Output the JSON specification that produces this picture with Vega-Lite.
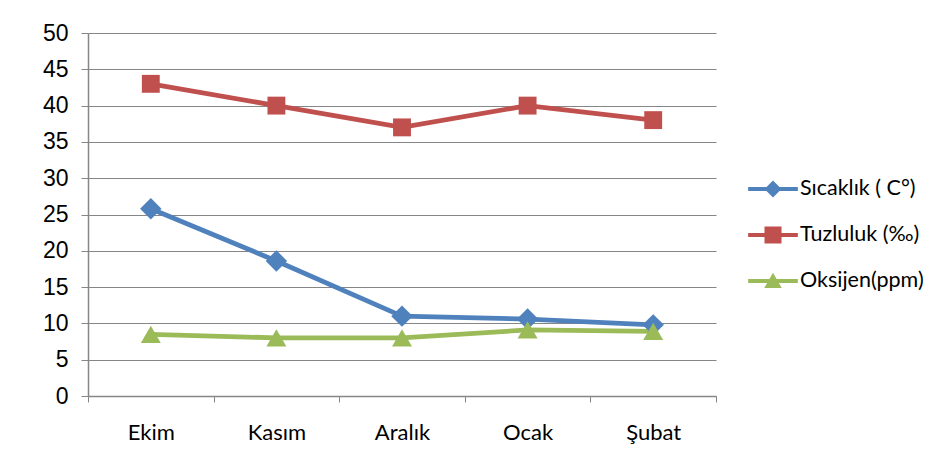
{
  "$schema": "https://vega.github.io/schema/vega-lite/v6.json",
  "width": 628,
  "height": 363,
  "autosize": "none",
  "padding": {"left": 88, "top": 33, "right": 234, "bottom": 80},
  "background": "white",
  "config": {
    "view": {"stroke": null},
    "font": "Lato"
  },
  "data": {
    "values": [
      {"ay": "Ekim", "seri": "Sıcaklık ( C°)", "deger": 25.8},
      {"ay": "Kasım", "seri": "Sıcaklık ( C°)", "deger": 18.6},
      {"ay": "Aralık", "seri": "Sıcaklık ( C°)", "deger": 11.0},
      {"ay": "Ocak", "seri": "Sıcaklık ( C°)", "deger": 10.6},
      {"ay": "Şubat", "seri": "Sıcaklık ( C°)", "deger": 9.8},
      {"ay": "Ekim", "seri": "Tuzluluk (‰)", "deger": 43},
      {"ay": "Kasım", "seri": "Tuzluluk (‰)", "deger": 40},
      {"ay": "Aralık", "seri": "Tuzluluk (‰)", "deger": 37},
      {"ay": "Ocak", "seri": "Tuzluluk (‰)", "deger": 40},
      {"ay": "Şubat", "seri": "Tuzluluk (‰)", "deger": 38},
      {"ay": "Ekim", "seri": "Oksijen(ppm)", "deger": 8.5},
      {"ay": "Kasım", "seri": "Oksijen(ppm)", "deger": 8.0},
      {"ay": "Aralık", "seri": "Oksijen(ppm)", "deger": 8.0},
      {"ay": "Ocak", "seri": "Oksijen(ppm)", "deger": 9.1},
      {"ay": "Şubat", "seri": "Oksijen(ppm)", "deger": 8.9}
    ]
  },
  "encoding": {
    "x": {
      "field": "ay",
      "type": "nominal",
      "sort": ["Ekim", "Kasım", "Aralık", "Ocak", "Şubat"],
      "scale": {"type": "band", "paddingInner": 0, "paddingOuter": 0},
      "axis": {
        "title": null,
        "labelAngle": 0,
        "tickBand": "extent",
        "tickSize": 6,
        "tickColor": "#868686",
        "domainColor": "#868686",
        "domainWidth": 1.5,
        "labelFontSize": 22,
        "labelColor": "black",
        "labelFont": "Lato",
        "labelPadding": 20,
        "grid": false
      }
    },
    "y": {
      "field": "deger",
      "type": "quantitative",
      "scale": {"domain": [0, 50], "nice": false},
      "axis": {
        "title": null,
        "values": [0, 5, 10, 15, 20, 25, 30, 35, 40, 45, 50],
        "tickSize": 7,
        "tickColor": "#868686",
        "domainColor": "#868686",
        "domainWidth": 1.5,
        "gridColor": "#868686",
        "gridWidth": 1.2,
        "labelFontSize": 23,
        "labelFont": "Liberation Sans",
        "labelColor": "black",
        "labelPadding": 13
      }
    },
    "color": {
      "field": "seri",
      "type": "nominal",
      "scale": {
        "domain": ["Sıcaklık ( C°)", "Tuzluluk (‰)", "Oksijen(ppm)"],
        "range": ["#4F81BD", "#C0504D", "#9BBB59"]
      },
      "legend": {
        "title": null,
        "orient": "none",
        "legendX": 662,
        "legendY": 133,
        "symbolSize": 2116,
        "labelOffset": 4,
        "rowPadding": 12,
        "labelFontSize": 21.5,
        "labelFont": "Lato",
        "labelColor": "black",
        "encode": {
          "symbols": {
            "update": {
              "shape": {"signal": "datum.value === 'Sıcaklık ( C°)' ? 'M-1.08,-0.09H1.08V0.09H-1.08Z M0,-0.37L0.37,0L0,0.37L-0.37,0Z' : datum.value === 'Tuzluluk (‰)' ? 'M-1.08,-0.09H1.08V0.09H-1.08Z M-0.37,-0.37H0.37V0.37H-0.37Z' : 'M-1.08,-0.09H1.08V0.09H-1.08Z M0,-0.36L0.38,0.3H-0.38Z'"},
              "fill": {"scale": "color", "field": "value"},
              "fillOpacity": {"value": 1},
              "opacity": {"value": 1},
              "strokeWidth": {"value": 0}
            }
          }
        }
      }
    }
  },
  "layer": [
    {
      "mark": {"type": "line", "strokeWidth": 4.8}
    },
    {
      "transform": [{"filter": "datum.seri === 'Sıcaklık ( C°)'"}],
      "mark": {"type": "point", "filled": true, "size": 460, "opacity": 1, "shape": "diamond"}
    },
    {
      "transform": [{"filter": "datum.seri === 'Tuzluluk (‰)'"}],
      "mark": {"type": "point", "filled": true, "size": 320, "opacity": 1, "shape": "square"}
    },
    {
      "transform": [{"filter": "datum.seri === 'Oksijen(ppm)'"}],
      "mark": {"type": "point", "filled": true, "size": 400, "opacity": 1, "shape": "triangle-up"}
    }
  ]
}
